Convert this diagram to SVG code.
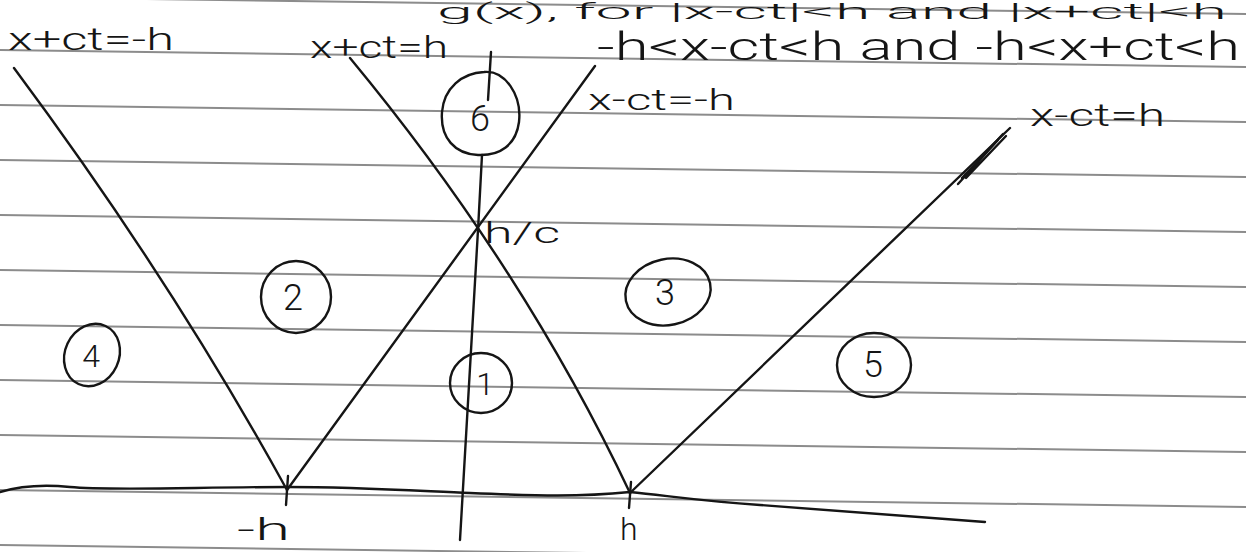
<svg xmlns="http://www.w3.org/2000/svg" width="1246" height="552" viewBox="0 0 1246 552">
<style>
.rule{stroke:#8c8c8c;stroke-width:2;fill:none}
.ink{stroke:#151515;stroke-width:2.4;fill:none;stroke-linecap:round;stroke-linejoin:round}
.ring{stroke:#151515;stroke-width:2.4;fill:none}
.t{font-family:Roboto,"Liberation Sans",Arial,sans-serif;font-weight:300;fill:#151515}
.lab{font-size:31px}
.num{font-size:36px;text-anchor:middle}
</style>
<rect width="1246" height="552" fill="#ffffff"/>
<g id="paper">
<line class="rule" x1="0" y1="-3" x2="1246" y2="14"/>
<line class="rule" x1="0" y1="50" x2="1246" y2="67"/>
<line class="rule" x1="0" y1="105" x2="1246" y2="122"/>
<line class="rule" x1="0" y1="160" x2="1246" y2="177"/>
<line class="rule" x1="0" y1="215" x2="1246" y2="232"/>
<line class="rule" x1="0" y1="270" x2="1246" y2="287"/>
<line class="rule" x1="0" y1="325" x2="1246" y2="342"/>
<line class="rule" x1="0" y1="380" x2="1246" y2="397"/>
<line class="rule" x1="0" y1="435" x2="1246" y2="452"/>
<line class="rule" x1="0" y1="490" x2="1246" y2="507"/>
<line class="rule" x1="0" y1="545" x2="1246" y2="562"/>
</g>
<g id="connectors">
<path id="x-plus-ct-minus-h" class="ink" d="M14,68 Q171,279 287,490"/>
<path id="x-minus-ct-minus-h" class="ink" d="M287,490 L595,66"/>
<path id="x-plus-ct-h" class="ink" d="M350,58 Q523,267 630,493"/>
<path id="x-minus-ct-h" class="ink" d="M630,493 L1010,128"/>
<path class="ink" d="M962,178 L1003,134 M966,178 L1006,136 M958,184 L998,140" stroke-width="2"/>
<path id="t-axis" class="ink" d="M491,52 L488,100 M482,155 L478,230 L460,540"/>
<path id="x-axis" class="ink" d="M0,492 C20,486 40,484 70,487 C110,491 200,487 287,487 C360,487 420,491 470,493 C540,496 580,497 630,492 C670,496 700,501 760,505 C830,510 900,516 985,522"/>
<path class="ink" d="M288,476 L286,505 M631,482 L629,508"/>
</g>
<g id="node-6">
<path class="ring" d="M484,72 C505,70 522,95 519,122 C516,145 500,156 478,155 C455,154 440,138 442,112 C444,88 462,73 484,72 Z"/>
<text class="t num" x="480" y="131">6</text>
</g>
<g id="node-2">
<ellipse class="ring" cx="296" cy="297" rx="35" ry="36"/>
<text class="t num" x="293" y="310">2</text>
</g>
<g id="node-4">
<ellipse class="ring" cx="92" cy="355" rx="27" ry="32" transform="rotate(25 92 355)"/>
<text class="t num" x="91" y="367" style="font-size:32px">4</text>
</g>
<g id="node-1">
<ellipse class="ring" cx="481" cy="383" rx="31" ry="30"/>
<text class="t num" x="485" y="395" style="font-size:32px">1</text>
</g>
<g id="node-3">
<ellipse class="ring" cx="668" cy="292" rx="43" ry="33" transform="rotate(-12 668 292)"/>
<text class="t num" x="665" y="305">3</text>
</g>
<g id="node-5">
<ellipse class="ring" cx="874" cy="365" rx="37" ry="32"/>
<text class="t num" x="873" y="377">5</text>
</g>
<g id="labels">
<text class="t" x="437" y="19" style="font-size:22px" textLength="790" lengthAdjust="spacingAndGlyphs">g(x), for |x-ct|&lt;h and |x+ct|&lt;h</text>
<text class="t lab" x="8" y="50" textLength="166" lengthAdjust="spacingAndGlyphs">x+ct=-h</text>
<text class="t lab" x="310" y="58" textLength="138" lengthAdjust="spacingAndGlyphs">x+ct=h</text>
<text class="t" x="597" y="60" style="font-size:38px" textLength="643" lengthAdjust="spacingAndGlyphs">-h&lt;x-ct&lt;h and -h&lt;x+ct&lt;h</text>
<text class="t lab" x="588" y="110" style="font-size:29px" textLength="147" lengthAdjust="spacingAndGlyphs">x-ct=-h</text>
<text class="t lab" x="1030" y="126" style="font-size:31px" textLength="135" lengthAdjust="spacingAndGlyphs">x-ct=h</text>
<text class="t" x="484" y="243" style="font-size:29px" textLength="76" lengthAdjust="spacingAndGlyphs">h/c</text>
<text class="t" x="237" y="540" style="font-size:32px" textLength="53" lengthAdjust="spacingAndGlyphs">-h</text>
<text class="t" x="620" y="540" style="font-size:32px">h</text>
</g>
</svg>
